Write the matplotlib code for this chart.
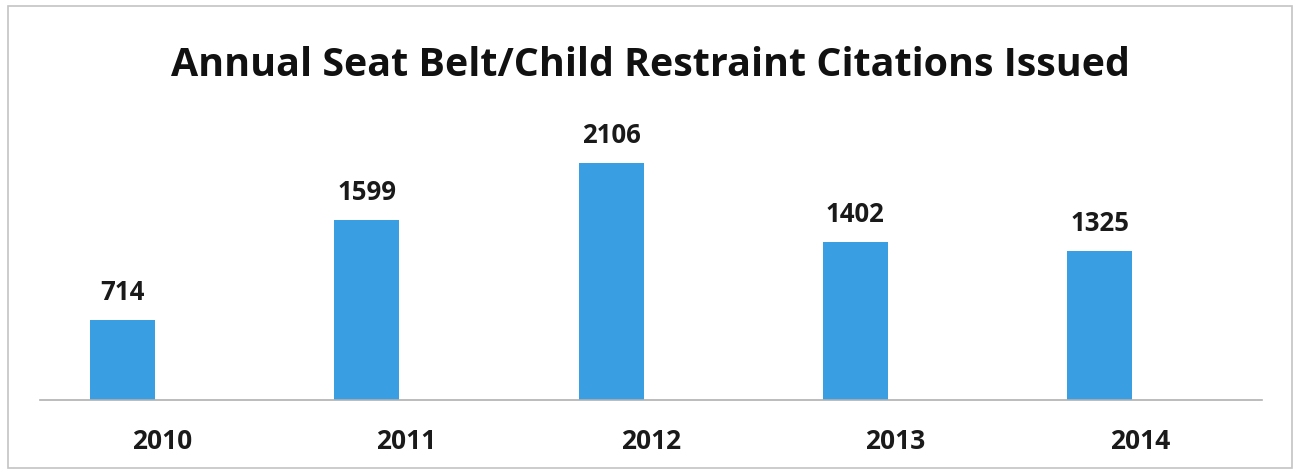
import numpy as np
import matplotlib.pyplot as plt
from matplotlib.patches import Rectangle

years = ['2010', '2011', '2012', '2013', '2014']
citations = [714, 1599, 2106, 1402, 1325]

W, H = 1293, 473
fig = plt.figure(figsize=(W / 100, H / 100), dpi=100)
plt.rcParams['font.family'] = ['Open Sans', 'DejaVu Sans']

# outer chart frame
fig.patches.append(Rectangle((8 / W, 5 / H), 1284 / W, 462 / H, transform=fig.transFigure,
                             fill=False, edgecolor='#c4c4c4', linewidth=1.2))

ax_left, ax_right = 40 / W, 1262 / W
ax_bottom = 1 - 400 / H
ymax = 2500
ax_h = (ymax * 237 / 2106) / H
ax = fig.add_axes([ax_left, ax_bottom, ax_right - ax_left, ax_h])

x = np.arange(len(years))
bar_x = x + 0.5 - 40 / 244.4
ax.bar(bar_x, citations, width=65 / 244.4, color='#3a9fe2', zorder=2)

for bx, v in zip(bar_x, citations):
    ax.annotate(str(v), (bx, v), xytext=(0, 10), textcoords='offset points',
                ha='center', va='bottom', fontsize=18.5, fontweight='bold',
                color='#1a1a1a')

ax.set_xlim(0, len(years))
ax.set_ylim(0, ymax)
ax.set_xticks(x + 0.5)
ax.set_xticklabels(years, fontsize=19, fontweight='bold', color='#1a1a1a')
ax.tick_params(axis='x', length=0, pad=20)
ax.set_yticks([])
for side in ['top', 'right', 'left']:
    ax.spines[side].set_visible(False)
ax.spines['bottom'].set_color('#b0b0b0')
ax.spines['bottom'].set_linewidth(1.2)

fig.text(0.503, 1 - 65 / H, 'Annual Seat Belt/Child Restraint Citations Issued',
         ha='center', va='center', fontsize=28.4, fontweight='bold', color='#111111')

fig.savefig('out.png', dpi=100)
